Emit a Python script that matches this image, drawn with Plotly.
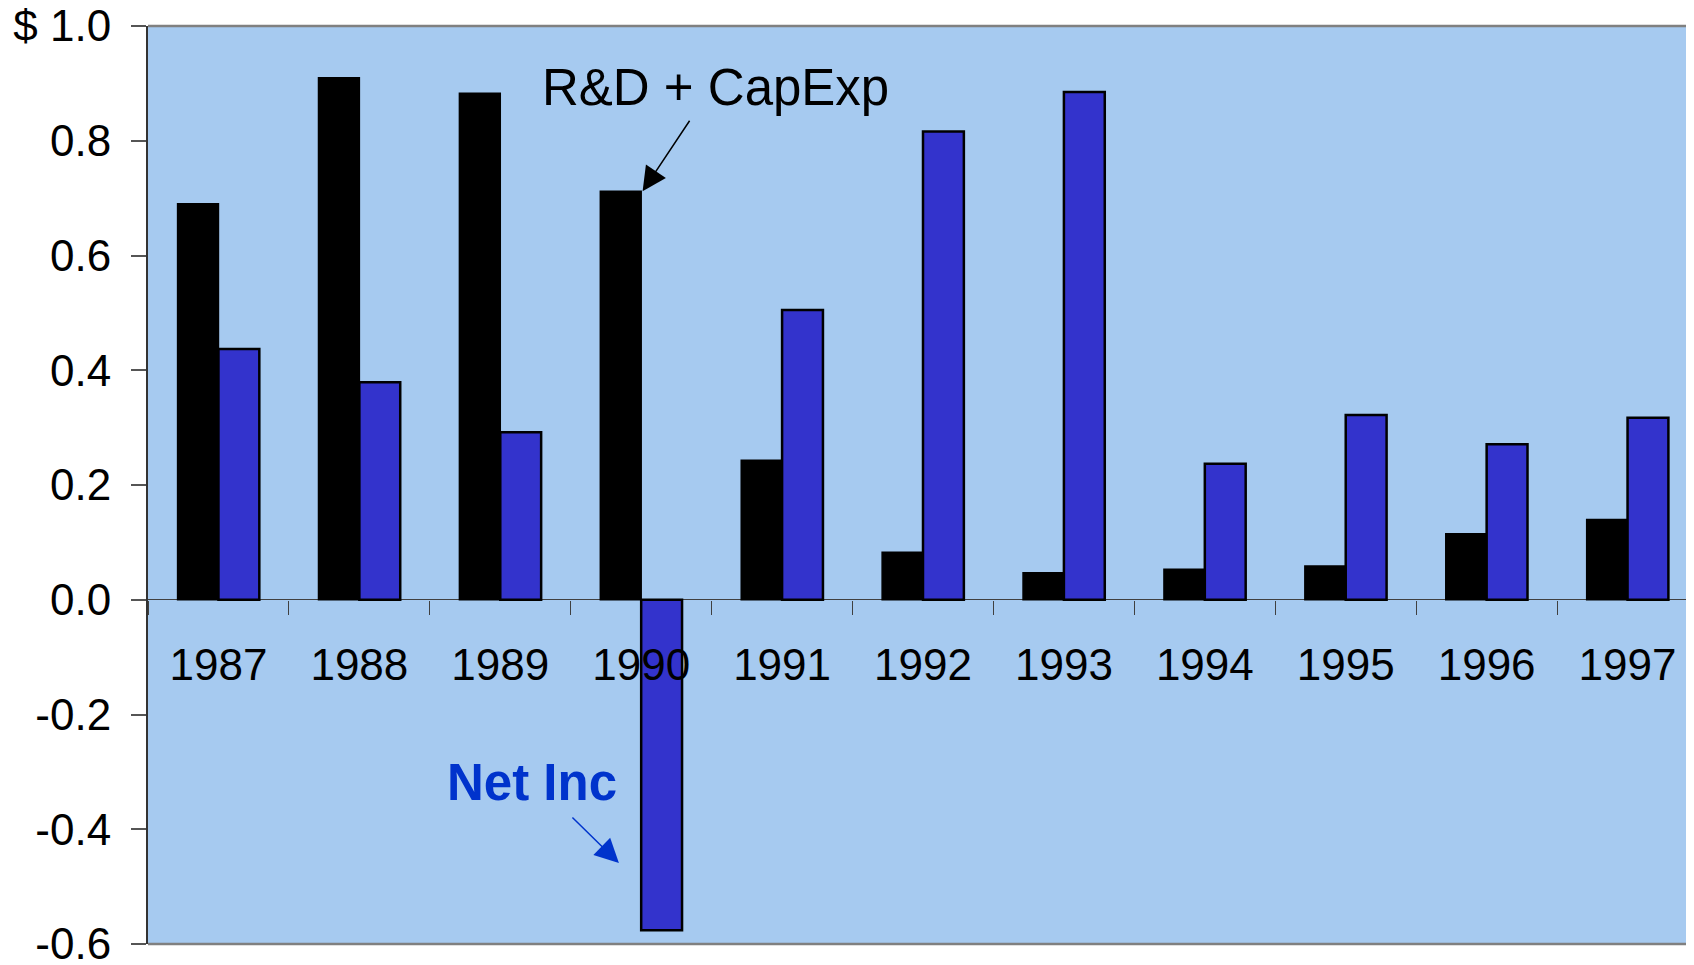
import plotly.graph_objects as go

years = ["1987", "1988", "1989", "1990", "1991", "1992", "1993", "1994", "1995", "1996", "1997"]
rd_capexp = [0.690, 0.910, 0.883, 0.712, 0.243, 0.083, 0.047, 0.053, 0.059, 0.115, 0.140]
net_inc = [0.437, 0.379, 0.292, -0.576, 0.505, 0.816, 0.885, 0.237, 0.322, 0.271, 0.317]
ytick_vals = [-0.6, -0.4, -0.2, 0.0, 0.2, 0.4, 0.6, 0.8, 1.0]
ytick_text = ["-0.6", "-0.4", "-0.2", "0.0", "0.2", "0.4", "0.6", "0.8", "$ 1.0"]

FONT = "Liberation Sans, Arial, sans-serif"

fig = go.Figure()
fig.add_trace(go.Bar(x=years, y=rd_capexp, name="R&D + CapExp",
                     marker=dict(color="#000000", line=dict(color="#000000", width=1.5))))
fig.add_trace(go.Bar(x=years, y=net_inc, name="Net Inc",
                     marker=dict(color="#3333CC", line=dict(color="#000000", width=2.5))))

fig.update_layout(
    width=1694, height=965,
    margin=dict(l=140, r=4, t=18, b=29, autoexpand=False),
    paper_bgcolor="white", plot_bgcolor="#A6CAF0",
    barmode="group", bargap=0.42, bargroupgap=0,
    showlegend=False,
    font=dict(family=FONT, size=44, color="black"),
    xaxis=dict(type="category", range=[-0.5, 10.5], anchor="free", position=0.375,
               automargin=False,
               showline=False, showgrid=False, ticks="outside", tickson="boundaries",
               ticklen=14, tickwidth=1, tickcolor="#404040",
               ticklabelstandoff=35, tickfont=dict(size=44)),
    yaxis=dict(range=[-0.6, 1.0], tickvals=ytick_vals, ticktext=ytick_text,
               automargin=False,
               showgrid=False, zeroline=True, zerolinecolor="#404040", zerolinewidth=1,
               showline=True, linecolor="#333333", linewidth=2,
               ticks="outside", ticklen=15, tickwidth=1.5, tickcolor="#555555",
               ticklabelstandoff=11, ticklabeloverflow="allow", tickfont=dict(size=44)),
    shapes=[
        dict(type="line", xref="paper", yref="paper", x0=0, x1=1, y0=1, y1=1,
             line=dict(color="#808080", width=2.5)),
        dict(type="line", xref="paper", yref="paper", x0=0, x1=1, y0=0, y1=0,
             line=dict(color="#808080", width=2.5)),
    ],
    annotations=[
        dict(x=3.528, y=0.893, xref="x", yref="y", text="R&D + CapExp", showarrow=False,
             font=dict(size=51, color="black", family=FONT)),
        dict(x=3.01, y=0.712, xref="x", yref="y", text="", showarrow=True,
             ax=48, ay=-72, arrowhead=2, arrowsize=3.2, arrowwidth=1.5, arrowcolor="black"),
        dict(x=2.227, y=-0.319, xref="x", yref="y", text="<b>Net Inc</b>", showarrow=False,
             font=dict(size=51, color="#0033CC", family=FONT)),
        dict(x=2.842, y=-0.459, xref="x", yref="y", text="", showarrow=True,
             ax=-48, ay=-47, arrowhead=2, arrowsize=3.2, arrowwidth=1.5, arrowcolor="#0033CC"),
    ],
)

fig.write_html("out.html")
